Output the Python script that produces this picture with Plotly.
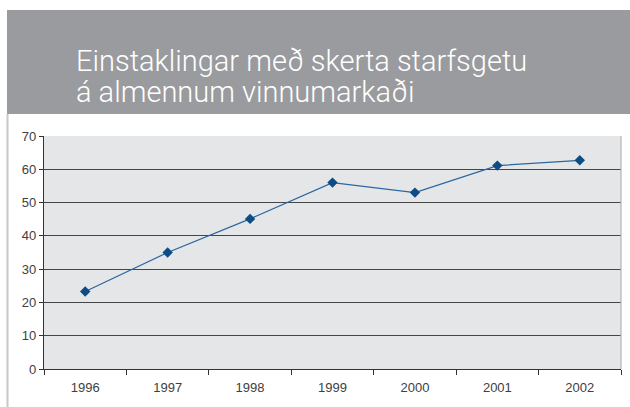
import plotly.graph_objects as go

years = ["1996", "1997", "1998", "1999", "2000", "2001", "2002"]
values = [23.3, 35.0, 45.1, 56.0, 53.0, 61.1, 62.7]
y_ticks = [0, 10, 20, 30, 40, 50, 60, 70]
title_lines = ["Einstaklingar með skerta starfsgetu", "á almennum vinnumarkaði"]

W, H = 630, 407
L, R, T, B = 44, 9, 136, 38
pw, ph = W - L - R, H - T - B


def px_x(p):
    return (p - L) / pw


def px_y(p):
    return (H - B - p) / ph


fig = go.Figure()
fig.add_trace(go.Scatter(
    x=years, y=values, mode="lines+markers",
    line=dict(color="#2a67a0", width=1.2),
    marker=dict(symbol="diamond", size=8, color="#0d4c84"),
    showlegend=False, hoverinfo="x+y",
))

shapes = [
    dict(type="rect", xref="paper", yref="paper",
         x0=px_x(7), x1=px_x(640), y0=px_y(114), y1=px_y(10),
         fillcolor="#9a9b9e", line=dict(width=0), layer="above"),
    dict(type="line", xref="paper", yref="paper",
         x0=px_x(7.5), x1=px_x(7.5), y0=px_y(114), y1=px_y(412),
         line=dict(color="#c8c8c8", width=2)),
    dict(type="line", xref="paper", yref="paper",
         x0=1, x1=1, y0=0, y1=1,
         line=dict(color="#b4b4b4", width=1.2)),
]

title_font = dict(family="Roboto, Liberation Sans", size=29, weight=300, color="white")
annotations = [
    dict(text=title_lines[0], xref="paper", yref="paper",
         x=px_x(74), y=px_y(61), xanchor="left", yanchor="middle",
         showarrow=False, font=title_font),
    dict(text=title_lines[1], xref="paper", yref="paper",
         x=px_x(74), y=px_y(92), xanchor="left", yanchor="middle",
         showarrow=False, font=title_font),
]

tick_font = dict(family="Liberation Sans, Arial", size=13, color="#404040")

fig.update_layout(
    width=W, height=H,
    margin=dict(l=L, r=R, t=T, b=B),
    paper_bgcolor="white", plot_bgcolor="#e5e6e8",
    shapes=shapes, annotations=annotations,
    font=dict(family="Liberation Sans, Arial", size=13, color="#404040"),
    xaxis=dict(
        type="category", tickson="boundaries", ticks="outside", ticklen=5,
        tickcolor="#333333", tickwidth=1, showgrid=False,
        showline=True, linecolor="#333333", linewidth=1.2,
        tickfont=tick_font, ticklabelstandoff=6,
        range=[-0.5, 6.5], fixedrange=True,
    ),
    yaxis=dict(
        range=[0, 70], tickvals=y_ticks, ticks="outside", ticklen=4,
        tickcolor="#333333", showgrid=True, gridcolor="#454545", gridwidth=1.2,
        showline=True, linecolor="#333333", linewidth=1.2, zeroline=False,
        tickfont=tick_font, fixedrange=True,
    ),
)

fig.write_html("out.html", config={"displayModeBar": False},
               post_script="document.body.style.margin='0';")
